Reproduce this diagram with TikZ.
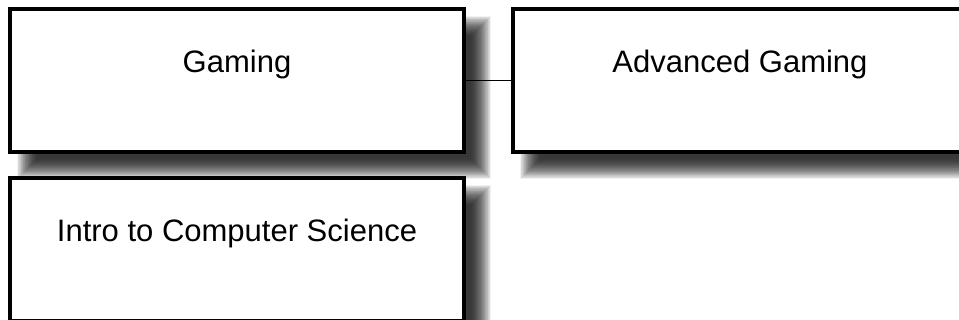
\documentclass[tikz,border=0pt]{standalone}
\usepackage{fontspec}
\setmainfont{Liberation Sans}
\usetikzlibrary{backgrounds}
\tikzset{
  course/.style={draw=black, line width=3.2pt, fill=white, rectangle,
    minimum width=454pt, inner sep=0pt, outer sep=0pt,
    text height=64pt, text depth=79pt,
    font=\fontsize{31}{37}\selectfont},
  link/.style={draw=black, line width=1.6pt},
  shadowlayer/.style={fill=black, opacity=0.05}
}
\newcommand{\blurshade}[1]{%
  \foreach \e [evaluate=\e as \a using 17-\e, evaluate=\e as \b using 17+\e] in {10,9.3,...,-10}{
    \fill[shadowlayer] ([shift={(\a,\a)}]#1.north west) rectangle ([shift={(\b,\b)}]#1.south east);
  }%
}
\begin{document}
\begin{tikzpicture}[x=1pt,y=-1pt]
\useasboundingbox (0,0) rectangle (959,320);
\node[course] (gaming) at (237,80.5) {Gaming};
\node[course] (adv) at (740,80.5) {Advanced Gaming};
\node[course] (intro) at (237,249.5) {Intro to Computer Science};
\begin{scope}[on background layer]
  \blurshade{gaming}
  \blurshade{adv}
  \blurshade{intro}
\end{scope}
\draw[link] (gaming.east) -- (adv.west);
\end{tikzpicture}
\end{document}
